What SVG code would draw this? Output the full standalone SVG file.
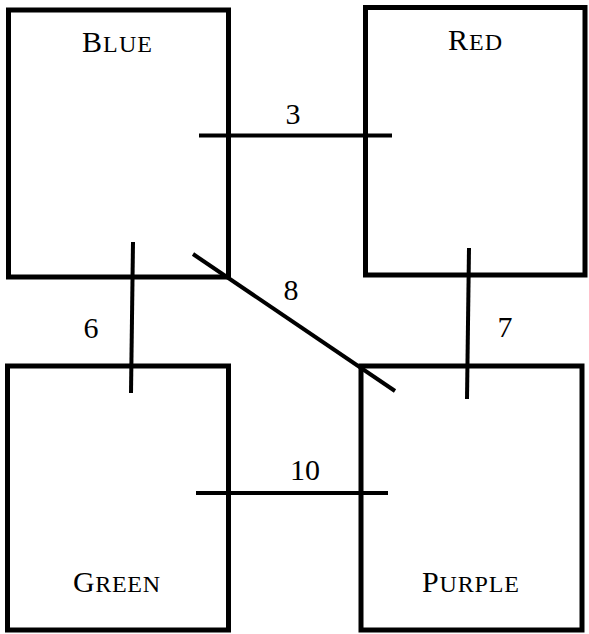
<svg xmlns="http://www.w3.org/2000/svg" width="589" height="634" viewBox="0 0 589 634">
<style>
.box{fill:none;stroke:#000;stroke-width:5}
.edge{stroke:#000;stroke-width:4;fill:none}
text{font-family:"Liberation Serif","Times New Roman",serif;font-size:30px;fill:#000}
.sc{font-size:24px}
</style>
<rect width="589" height="634" fill="#fff"/>
<g id="connectors">
<line class="edge" x1="199" y1="135.5" x2="392" y2="135.5"/>
<line class="edge" x1="133" y1="242" x2="131" y2="393"/>
<line class="edge" x1="193" y1="254" x2="395" y2="391"/>
<line class="edge" x1="469" y1="248" x2="467" y2="399"/>
<line class="edge" x1="196" y1="493" x2="388" y2="493"/>
<text x="293" y="124" text-anchor="middle">3</text>
<text x="91" y="338" text-anchor="middle">6</text>
<text x="291" y="300" text-anchor="middle">8</text>
<text x="505" y="337" text-anchor="middle">7</text>
<text x="305" y="480" text-anchor="middle">10</text>
</g>
<g id="blue">
<rect class="box" x="8.5" y="10" width="220" height="267"/>
<text x="117" y="52" text-anchor="middle" textLength="70" lengthAdjust="spacing">B<tspan class="sc">LUE</tspan></text>
</g>
<g id="red">
<rect class="box" x="365.5" y="7.5" width="219.5" height="267.5"/>
<text x="475" y="50" text-anchor="middle" textLength="54" lengthAdjust="spacing">R<tspan class="sc">ED</tspan></text>
</g>
<g id="green">
<rect class="box" x="7.5" y="366" width="221" height="264"/>
<text x="116.5" y="592" text-anchor="middle" textLength="87" lengthAdjust="spacing">G<tspan class="sc">REEN</tspan></text>
</g>
<g id="purple">
<rect class="box" x="361" y="366" width="221" height="264"/>
<text x="470.5" y="592" text-anchor="middle" textLength="97" lengthAdjust="spacing">P<tspan class="sc">URPLE</tspan></text>
</g>
</svg>
